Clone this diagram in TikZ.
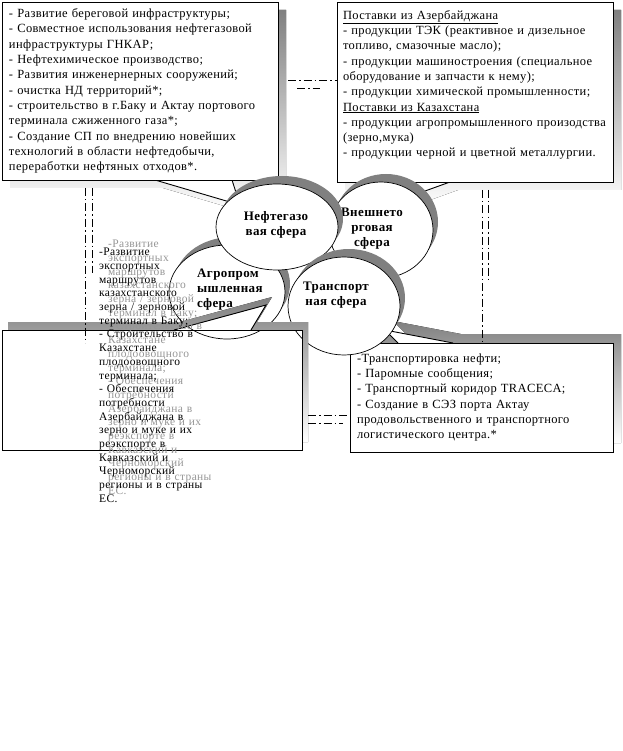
\documentclass[tikz,border=0pt]{standalone}
\usepackage{fontspec}
\setmainfont{Liberation Serif}
\newfontfamily\boxfont{Liberation Serif}[LetterSpace=3.0]
\usetikzlibrary{shapes.geometric, calc}
\definecolor{shade}{RGB}{128,128,128}
\definecolor{textshade}{RGB}{150,150,150}
\newcommand{\jline}[1]{\makebox[\hsize][s]{#1}}
\newcommand{\agrolines}{%
-Развитие\\
экспортных\\
маршрутов\\
казахстанского\\
\jline{зерна / зерновой}\\
терминал в Баку;\\
\jline{- Строительство в}\\
Казахстане\\
плодоовощного\\
терминала;\\
\jline{- Обеспечения}\\
потребности\\
\jline{Азербайджана в}\\
\jline{зерно и муке и их}\\
\jline{реэкспорте в}\\
\jline{Кавказский и}\\
Черноморский\\
\jline{регионы и в страны}\\
ЕС.}
\tikzset{
  callout/.style={rectangle, draw=black, fill=white, line width=0.9pt,
    inner sep=0pt, align=left, font=\boxfont\fontsize{12.5}{15.3}\selectfont},
  wedge/.style={draw=black, fill=white, line width=0.9pt},
  sphere/.style={ellipse, draw=black, fill=white, line width=0.7pt, inner sep=0pt},
  sphereshadow/.style={ellipse, fill=shade, inner sep=0pt},
  spherelabel/.style={align=center, inner sep=0pt,
    font=\boxfont\bfseries\fontsize{13}{15}\selectfont},
  bltext/.style={align=left, inner sep=0pt, anchor=north west, text width=104pt,
    font=\boxfont\fontsize{11.5}{13.7}\selectfont},
  link/.style={line width=0.7pt, dash pattern=on 8pt off 3pt on 1.5pt off 3pt}
}

\begin{document}
\begin{tikzpicture}[x=1pt, y=-1pt]
  \useasboundingbox (0,0) rectangle (622,751);

  % Box shadows
  \fill[shade] (10,10) -- (286,10) -- (286,188) -- (240,188) -- (248,213) -- (163,188) -- (10,188) -- cycle;
  \fill[shade] (345,10) -- (621,10) -- (621,190) -- (458,190) -- (408,208) -- (393,190) -- (345,190) -- cycle;
  \fill[shade] (358,334) -- (406,334) -- (393,321) -- (461,334) -- (621,334) -- (621,443) -- (358,443) -- cycle;

  % Wedges
  \filldraw[wedge] (155,180) -- (240,205) -- (232,180);
  \filldraw[wedge] (385,182) -- (400,200) -- (450,182);
  \filldraw[wedge] (398,343) -- (385,330) -- (453,343);

  % Boxes
  \node[callout, minimum width=276pt, minimum height=178pt, text width=262pt] (oilbox) at (140,91) {%
    - Развитие береговой инфраструктуры;\\
    - Совместное использования нефтегазовой\\
    инфраструктуры ГНКАР;\\
    - Нефтехимическое производство;\\
    - Развития инженернерных сооружений;\\
    - очистка НД территорий*;\\
    - строительство в г.Баку и Актау портового\\
    терминала сжиженного газа*;\\
    - Создание СП по внедрению новейших\\
    технологий в области нефтедобычи,\\
    переработки нефтяных отходов*.};
  \node[callout, minimum width=276pt, minimum height=180pt] (tradebox) at (475,92) {};
  \node[callout, draw=none, fill=none, text width=264pt] (tradetext) at (475,85) {%
    \underline{Поставки из Азербайджана}\\
    - продукции ТЭК (реактивное и дизельное\\
    топливо, смазочные масло);\\
    - продукции машиностроения (специальное\\
    оборудование и запчасти к нему);\\
    - продукции химической промышленности;\\
    \underline{Поставки из Казахстана}\\
    - продукции агропромышленного произодства\\
    (зерно,мука)\\
    - продукции черной и цветной металлургии.};
  \node[callout, minimum width=263pt, minimum height=109pt, text width=249pt] (transbox) at (481.5,397.5) {%
    -Транспортировка нефти;\\
    - Паромные сообщения;\\
    - Транспортный коридор TRACECA;\\
    \jline{- Создание в СЭЗ порта Актау}\\
    \jline{продовольственного и транспортного}\\
    логистического центра.*};

  % Spheres
  \node[sphereshadow, minimum width=116pt, minimum height=94pt] (agro-s) at (232,284) {};
  \node[sphere, minimum width=116pt, minimum height=94pt] (agro) at (227,292) {};
  \node[spherelabel, align=left, anchor=west] (agro-t) at (197,290) {Агропром\\ышленная\\сфера};
  \node[sphereshadow, minimum width=104pt, minimum height=96pt] (trade-s) at (386,222) {};
  \node[sphere, minimum width=104pt, minimum height=96pt] (trade) at (381,230) {};
  \node[spherelabel] (trade-t) at (372,229) {Внешнето\\рговая\\сфера};
  \node[sphereshadow, minimum width=122pt, minimum height=86pt] (oil-s) at (282,219) {};
  \node[sphere, minimum width=122pt, minimum height=86pt] (oil) at (277,227) {};
  \node[spherelabel] (oil-t) at (276,225) {Нефтегазо\\вая сфера};
  \node[sphereshadow, minimum width=112pt, minimum height=98pt] (transp-s) at (349,298) {};
  \node[sphere, minimum width=112pt, minimum height=98pt] (transp) at (344,306) {};
  \node[spherelabel] (transp-t) at (336,295) {Транспорт\\ная сфера};

  % Agro box, drawn over the spheres
  \fill[shade] (8,322) -- (180,322) -- (272,297) -- (257,322) -- (308,322) -- (308,442) -- (302,442)
    -- (302,330) -- (251,330) -- (266,305) -- (174,330) -- (8,330) -- cycle;
  \node[callout, fill=none, minimum width=300pt, minimum height=120pt] (agrobox) at (152,390) {};
  \draw[wedge, fill=none] (174,330) -- (266,305) -- (251,330);
  \node[bltext, text=textshade] (agrotext-s) at (108,240) {\agrolines};
  \node[bltext] (agrotext) at (99,248) {\agrolines};

  % Dash-dot links
  \coordinate (c1) at (288,80);
  \coordinate (c2a) at (297,88);
  \coordinate (c2b) at (320,88);
  \coordinate (c3a) at (85,188);
  \coordinate (c3b) at (85,343);
  \coordinate (c4a) at (92,188);
  \coordinate (c4b) at (92,273);
  \coordinate (c5a) at (482,190);
  \coordinate (c5b) at (482,342);
  \coordinate (c6a) at (488,190);
  \coordinate (c6b) at (488,282);
  \coordinate (c7) at (308,415);
  \coordinate (c8a) at (308,423);
  \coordinate (c8b) at (343,423);
  \draw[link] (c1) -- (c1 -| tradebox.west);
  \draw[link] (c2a) -- (c2b);
  \draw[link] (c3a) -- (c3b);
  \draw[link] (c4a) -- (c4b);
  \draw[link] (c5a) -- (c5b);
  \draw[link] (c6a) -- (c6b);
  \draw[link] (c7) -- (c7 -| transbox.west);
  \draw[link] (c8a) -- (c8b);
\end{tikzpicture}
\end{document}
